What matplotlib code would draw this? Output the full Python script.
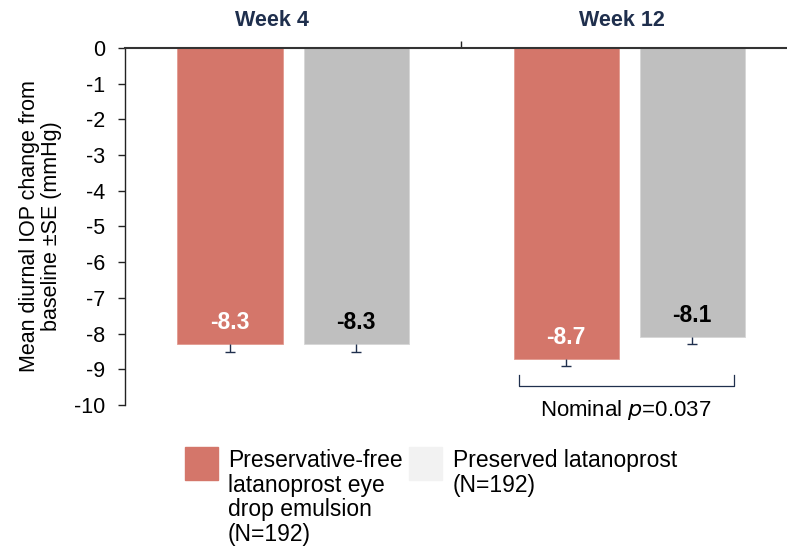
import matplotlib

matplotlib.use("Agg")
import matplotlib.pyplot as plt  # noqa: E402
import numpy as np  # noqa: E402

plt.rcParams["font.family"] = ["Liberation Sans", "DejaVu Sans"]

# Mean diurnal IOP change from baseline (mmHg) and lower SE
weeks = ["Week 4", "Week 12"]
pf_means = [-8.3, -8.7]
pf_se = [0.22, 0.2]
preserved_means = [-8.3, -8.1]
preserved_se = [0.22, 0.2]
pf_label = "Preservative-free\nlatanoprost eye\ndrop emulsion\n(N=192)"
preserved_label = "Preserved latanoprost\n(N=192)"
p_text = "Nominal $p$=0.037"
y_ticks = list(range(0, -11, -1))

RED = "#d4766a"
GRAY = "#bfbfbf"
NAVY = "#1f2f4d"

fig = plt.figure(figsize=(7.87, 5.51), dpi=100)
ax = fig.add_axes([0.1588, 0.265, 0.8412, 0.6481])

xs = np.arange(len(weeks))
width = 0.3125
off = 0.1875
cap = 0.016


def lower_whiskers(xpos, means, errs):
    lo = np.array(means) - np.array(errs)
    ax.vlines(xpos, lo, means, color=NAVY, lw=1.0)
    ax.hlines(lo, xpos - cap, xpos + cap, color=NAVY, lw=1.0)


ax.bar(xs - off, pf_means, width=width, color=RED, edgecolor="#e29a90", linewidth=0.6)
ax.bar(xs + off, preserved_means, width=width, color=GRAY, edgecolor="#d6d6d6", linewidth=0.6)
lower_whiskers(xs - off, pf_means, pf_se)
lower_whiskers(xs + off, preserved_means, preserved_se)

for x, v in zip(xs - off, pf_means):
    ax.text(x, v + 0.6, f"{v:.1f}", ha="center", va="center", color="white",
            fontsize=16.5, fontweight="bold")
for x, v in zip(xs + off, preserved_means):
    ax.text(x, v + 0.6, f"{v:.1f}", ha="center", va="center", color="black",
            fontsize=16.5, fontweight="bold")

ax.set_ylim(-10, 0)
ax.set_xlim(-0.5, 1.47)
ax.set_yticks(y_ticks)
ax.set_yticklabels([str(t) for t in y_ticks], fontsize=15.5)
ax.tick_params(axis="y", length=5, width=1.0, pad=9, color="#222222")

ax.xaxis.tick_top()
ax.set_xticks([0.5])
ax.set_xticklabels([""])
ax.tick_params(axis="x", length=5, width=1.0, color="#222222")

ax.spines["bottom"].set_visible(False)
ax.spines["right"].set_visible(False)
ax.spines["top"].set_color("#333333")
ax.spines["top"].set_linewidth(1.5)
ax.spines["left"].set_color("#222222")
ax.spines["left"].set_linewidth(1.0)

for x, name in zip([-0.064, 0.98], weeks):
    ax.text(x, 1.046, name, transform=ax.get_xaxis_transform(), ha="center",
            va="bottom", fontsize=15.5, fontweight="bold", color=NAVY)

ax.set_ylabel("Mean diurnal IOP change from\nbaseline ±SE (mmHg)", fontsize=15.5,
              labelpad=9, linespacing=1.05)

# comparison bracket under Week 12
x0, x1 = 1 - off - width / 2 + 0.015, 1 + off + width / 2 - 0.03
y_line, y_top = -9.47, -9.15
ax.plot([x0, x0, x1, x1], [y_top, y_line, y_line, y_top], color=NAVY, lw=0.9,
        clip_on=False)
ax.text(1 - 0.01, -10.14, p_text, ha="center", va="center", fontsize=16,
        clip_on=False)

# legend drawn as patches + text
fig.patches.append(plt.Rectangle((185 / 787, 1 - 480 / 551), 33 / 787, 33 / 551,
                                 transform=fig.transFigure, color=RED))
fig.text(228 / 787, 1 - 449 / 551, pf_label, ha="left", va="top", fontsize=16.5,
         linespacing=1.09)
fig.patches.append(plt.Rectangle((409 / 787, 1 - 480 / 551), 33 / 787, 33 / 551,
                                 transform=fig.transFigure, color="#f2f2f2"))
fig.text(453 / 787, 1 - 449 / 551, preserved_label, ha="left", va="top",
         fontsize=16.5, linespacing=1.09)

fig.savefig("out.png", dpi=100)
